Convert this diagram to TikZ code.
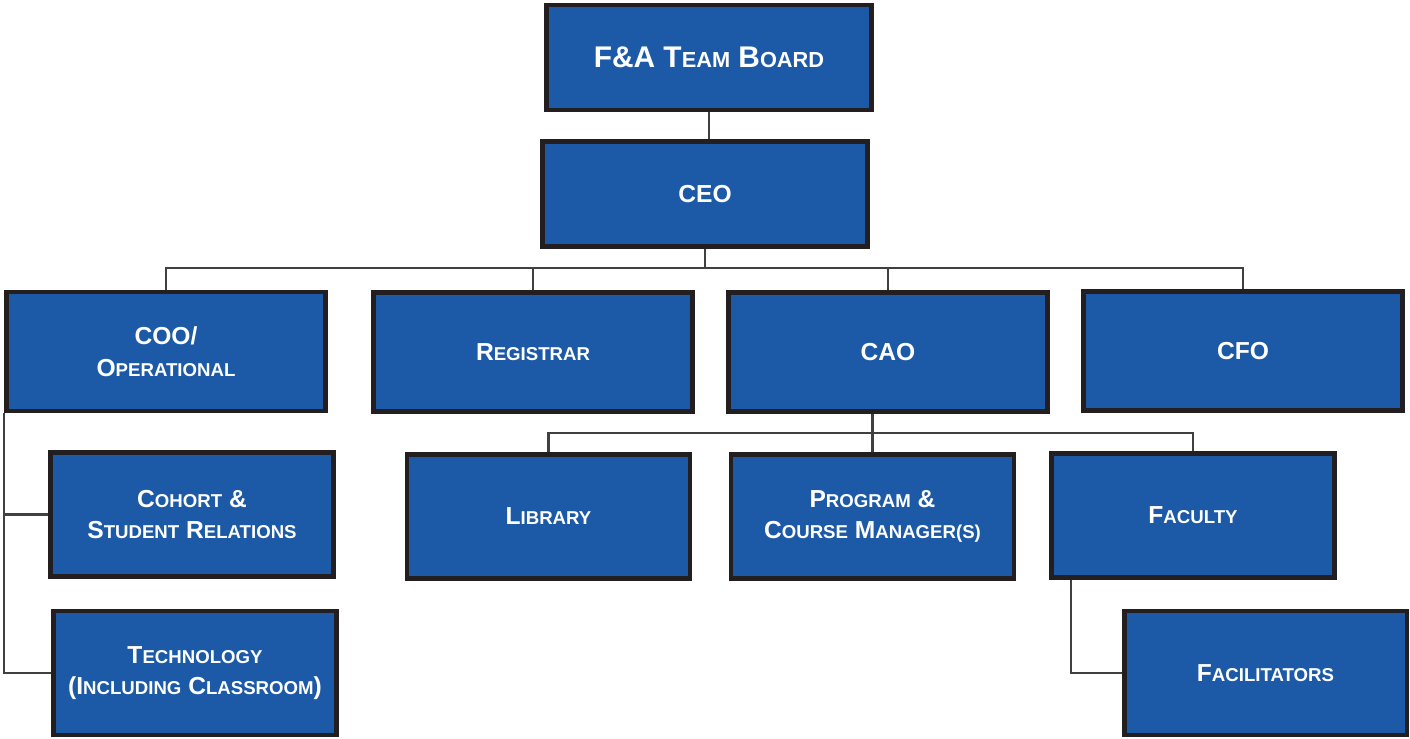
\documentclass[tikz,border=0pt]{standalone}
\usepackage{fontspec}
\setmainfont{Liberation Sans}
\usetikzlibrary{calc}
\definecolor{blue1}{RGB}{28, 90, 168}
\definecolor{edge1}{RGB}{35, 31, 32}
\definecolor{link1}{RGB}{64, 64, 64}
\newcommand{\sm}[1]{{\fontsize{10.6}{18}\selectfont #1}}
\newcommand{\smb}[1]{{\fontsize{12.4}{18}\selectfont #1}}

\begin{document}
\begin{tikzpicture}[x=0.02cm, y=-0.02cm,
  box/.style={rectangle, fill=blue1, draw=edge1, line width=2.8pt, text=white,
    align=center, font=\bfseries\fontsize{14}{18}\selectfont},
  topbox/.style={box, minimum width=6.5cm, minimum height=2.1cm},
  midbox/.style={box, minimum width=6.38cm, minimum height=2.38cm},
  lowbox/.style={box, minimum width=5.66cm, minimum height=2.48cm},
  link/.style={draw=link1, line width=1.2pt}]
 \useasboundingbox (0,0) rectangle (1410,738);

  \node[topbox, font=\bfseries\fontsize{17}{20}\selectfont] (board) at (709,57.5) {F\&A T\smb{EAM} B\smb{OARD}};
  \node[topbox] (ceo) at (705,194) {CEO};

  \node[midbox] (coo) at (166,351.5) {COO/\\O\sm{PERATIONAL}};
  \node[midbox] (reg) at (533,352) {R\sm{EGISTRAR}};
  \node[midbox] (cao) at (888,352) {CAO};
  \node[midbox] (cfo) at (1243,351) {CFO};

  \node[lowbox] (cohort) at (192,514.5) {C\sm{OHORT} \&\\S\sm{TUDENT} R\sm{ELATIONS}};
  \node[lowbox] (tech) at (195,673) {T\sm{ECHNOLOGY}\\(I\sm{NCLUDING} C\sm{LASSROOM})};
  \node[lowbox] (lib) at (548.5,516.5) {L\sm{IBRARY}};
  \node[lowbox] (prog) at (872.5,516.5) {P\sm{ROGRAM} \&\\C\sm{OURSE} M\sm{ANAGER(S)}};
  \node[lowbox] (fac) at (1193,515.5) {F\sm{ACULTY}};
  \node[lowbox] (facil) at (1265.5,673) {F\sm{ACILITATORS}};

  \coordinate (bus1) at (0,268);
  \coordinate (bus2) at (0,433);
  \draw[link] (board.south) -- (board.south |- ceo.north);
  \draw[link] (ceo.south) -- (ceo.south |- bus1);
  \foreach \to in {coo, reg, cao, cfo}
   \draw[link] (ceo.south |- bus1) -| (\to.north);
  \draw[link] (prog.north |- cao.south) -- (prog.north |- bus2);
  \foreach \to in {lib, prog, fac}
   \draw[link] (prog.north |- bus2) -| (\to.north);
  % side branches
  \draw[link] (coo.south west) |- (tech.west);
  \draw[link] (coo.south west |- cohort.west) -- (cohort.west);
  \draw[link] ($(fac.south west)+(22,0)$) |- (facil.west);
    \end{tikzpicture}
\end{document}
